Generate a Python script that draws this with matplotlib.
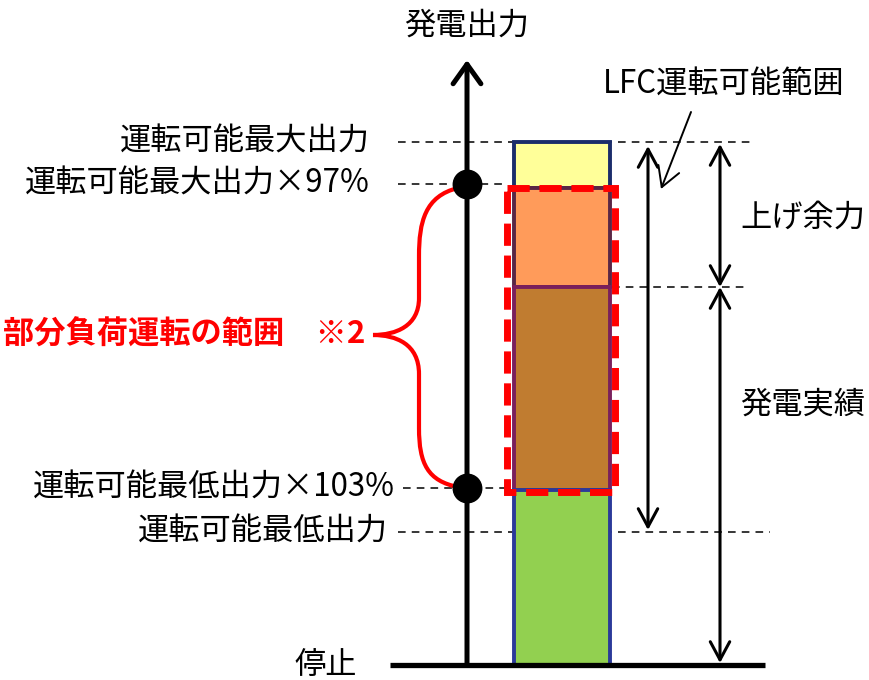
import matplotlib.pyplot as plt
from matplotlib.patches import Rectangle, PathPatch
from matplotlib.path import Path

plt.rcParams['font.family'] = ['Noto Sans CJK JP', 'DejaVu Sans']

# levels on the output axis (drawing units, y grows downward)
level_labels = ['運転可能最大出力', '運転可能最大出力×97%', '運転可能最低出力×103%', '運転可能最低出力']
level_y = [142, 184, 488, 532]
stop_y = 665
headroom_y = 287

# stacked bar segments: (top, bottom)
seg_top = [142, 188, 287, 490]
seg_bottom = [188, 287, 490, 665]
seg_colors = ['#FFFF99', '#FF9B5A', '#C07C30', '#92D050']
seg_edges = ['#1B2D6B', '#5A2645', '#7A1F5C', '#2B3A9A']

fig = plt.figure(figsize=(8.7, 6.8), dpi=100)
ax = fig.add_axes([0, 0, 1, 1])
ax.set_xlim(0, 870)
ax.set_ylim(680, 0)
ax.axis('off')

fs = 22.5
dash = (0, (5, 4))

# dashed guide lines
ax.plot([398, 755], [level_y[0], level_y[0]], color='black', lw=1.1, ls=dash)
ax.plot([398, 505], [level_y[1], level_y[1]], color='black', lw=1.1, ls=dash)
ax.plot([403, 505], [level_y[2], level_y[2]], color='black', lw=1.1, ls=dash)
ax.plot([398, 770], [level_y[3], level_y[3]], color='black', lw=1.1, ls=dash)
ax.plot([612, 746], [headroom_y, headroom_y], color='black', lw=1.1, ls=dash)

# bar
for t, b, c, e in zip(seg_top, seg_bottom, seg_colors, seg_edges):
    ax.bar(562, b - t, bottom=t, width=96, color=c, edgecolor=e, linewidth=2.8, zorder=3)

# partial load range box
ax.add_patch(Rectangle((507, 188), 108, 304, fill=False, edgecolor='#FF0000',
                       lw=5, ls=(0, (3.2, 1.4)), zorder=5))

# vertical axis and baseline
ax.plot([390, 765], [stop_y, stop_y], color='black', lw=3.8, solid_capstyle='butt', zorder=4)
ax.annotate('', xy=(467, 60), xytext=(467, stop_y),
            arrowprops=dict(arrowstyle='->, head_length=0.7, head_width=0.5',
                            mutation_scale=20, lw=3.6, color='black',
                            shrinkA=0, shrinkB=0), zorder=4)
ax.scatter([467, 467], [level_y[1], level_y[2]], s=420, color='black', zorder=6)

# brace
verts = [(458, 188), (425, 196), (419, 222), (419, 256),
         (419, 298),
         (419, 326), (396, 335), (373, 335),
         (396, 335), (419, 344), (419, 374),
         (419, 428),
         (419, 464), (428, 481), (458, 487)]
codes = [Path.MOVETO, Path.CURVE4, Path.CURVE4, Path.CURVE4,
         Path.LINETO,
         Path.CURVE4, Path.CURVE4, Path.CURVE4,
         Path.CURVE4, Path.CURVE4, Path.CURVE4,
         Path.LINETO,
         Path.CURVE4, Path.CURVE4, Path.CURVE4]
ax.add_patch(PathPatch(Path(verts, codes), fill=False, edgecolor='#FF0000', lw=3, zorder=5))

# double arrows
arrow = dict(arrowstyle='<->, head_length=0.65, head_width=0.35', mutation_scale=20,
             lw=2.2, color='black', shrinkA=0, shrinkB=0)
ax.annotate('', xy=(648, 146), xytext=(648, 530), arrowprops=arrow)
ax.annotate('', xy=(720, 144), xytext=(720, headroom_y), arrowprops=arrow)
ax.annotate('', xy=(720, headroom_y), xytext=(720, 663), arrowprops=arrow)
ax.annotate('', xy=(661, 189), xytext=(691, 112),
            arrowprops=dict(arrowstyle='->, head_length=0.7, head_width=0.4', mutation_scale=20,
                            lw=1.4, color='black', shrinkA=0, shrinkB=0))

# texts
ax.text(467, 26, '発電出力', fontsize=fs, ha='center', va='center')
ax.text(370, level_y[0], level_labels[0], fontsize=fs, ha='right', va='center')
ax.text(370, level_y[1], level_labels[1], fontsize=fs, ha='right', va='center')
ax.text(395, level_y[2], level_labels[2], fontsize=fs, ha='right', va='center')
ax.text(388, level_y[3], level_labels[3], fontsize=fs, ha='right', va='center')
ax.text(326, stop_y, '停止', fontsize=fs, ha='center', va='center')
ax.text(724, 85, 'LFC運転可能範囲', fontsize=fs, ha='center', va='center')
ax.text(740, 218, '上げ余力', fontsize=fs, ha='left', va='center')
ax.text(740, 405, '発電実績', fontsize=fs, ha='left', va='center')
ax.text(365, 335, '部分負荷運転の範囲　※2', fontsize=fs, ha='right', va='center',
        color='#FF0000', fontweight='bold')

fig.savefig('out.png', dpi=100)
